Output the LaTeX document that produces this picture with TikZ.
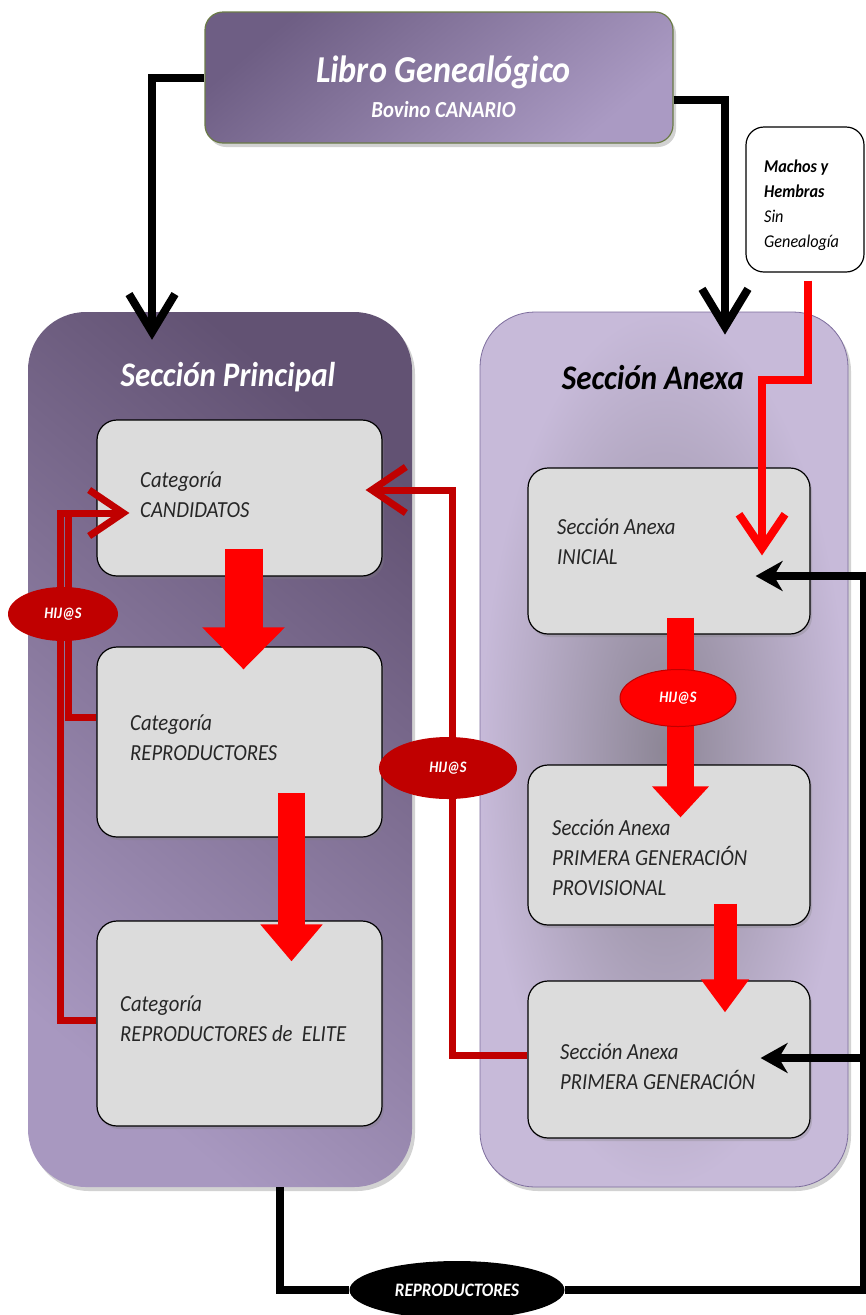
\documentclass[tikz,border=0pt]{standalone}
\usepackage{fontspec}
\setmainfont{Carlito}[FakeStretch=0.9]
\usetikzlibrary{arrows.meta,shapes.geometric,calc,shadows}
\definecolor{topdark}{HTML}{6E5E84}
\definecolor{toplight}{HTML}{AA9AC3}
\definecolor{topedge}{HTML}{6B7B47}
\definecolor{pdark}{HTML}{625273}
\definecolor{plight}{HTML}{A898C0}
\definecolor{aout}{HTML}{C7BAD9}
\definecolor{ain}{HTML}{8D8696}
\definecolor{aedge}{HTML}{7D6D9D}
\definecolor{boxgray}{HTML}{DCDCDC}
\definecolor{hijred}{HTML}{C00000}
\definecolor{brightred}{HTML}{FF0000}
\begin{document}
\begin{tikzpicture}[x=1pt,y=-1pt,
  sectbox/.style={rounded corners=58pt, inner sep=0pt,
    drop shadow={opacity=0.35,shadow xshift=3pt,shadow yshift=-4pt}},
  catbox/.style={draw=black, line width=1.2pt, fill=boxgray, rounded corners=20pt,
    inner sep=0pt, drop shadow={opacity=0.3,shadow xshift=2pt,shadow yshift=-3pt}},
  lbl/.style={font=\itshape\fontsize{23}{30}\selectfont, align=left, anchor=west,
    inner sep=0pt, text=black!85},
  hijos/.style={ellipse, fill=hijred, inner sep=0pt, text=white,
    font=\bfseries\itshape\fontsize{16}{18}\selectfont},
  blk/.style={line width=8pt, black},
  blkbarb/.style={-{Straight Barb[length=38pt,width=46pt]}},
  blkstealth/.style={-{Stealth[length=27pt,width=30pt]}},
  hijline/.style={line width=7pt, hijred},
  redline/.style={line width=8pt, brightred},
  redbarb/.style={-{Straight Barb[length=34pt,width=46pt]}},
  blockarrow/.style={brightred}
]
\fill[white] (0,0) rectangle (866,1315);
\useasboundingbox (0,0) rectangle (866,1315);

% sections
\node[sectbox, minimum width=384pt, minimum height=875pt,
  top color=pdark, bottom color=plight, shading angle=-40] (princ) at (220,749.5) {};
\node[sectbox, rounded corners=55pt, draw=aedge, line width=0.8pt,
  minimum width=368pt, minimum height=875pt,
  inner color=ain, outer color=aout] (anexa) at (664,749.5) {};
\node[font=\bfseries\itshape\fontsize{34.5}{38}\selectfont, text=white] (princT) at (228,377) {Sección Principal};
\node[font=\bfseries\itshape\fontsize{34.5}{38}\selectfont, text=black] (anexaT) at (653,378) {Sección Anexa};

% top box
\node[rounded corners=18pt, draw=topedge, line width=1.2pt, inner sep=0pt,
  minimum width=468pt, minimum height=131pt,
  top color=topdark, bottom color=toplight, shading angle=40,
  drop shadow={opacity=0.35,shadow xshift=3pt,shadow yshift=-4pt}] (top) at (439,77.5) {};
\node[font=\bfseries\itshape\fontsize{38}{42}\selectfont, text=white] (topT1) at (443.5,72) {Libro Genealógico};
\node[font=\bfseries\itshape\fontsize{23}{26}\selectfont, text=white] (topT2) at (443.5,110) {Bovino CANARIO};

% machos box
\node[draw=black, line width=1.2pt, fill=white, rounded corners=18pt, inner sep=0pt,
  minimum width=118pt, minimum height=145pt] (machos) at (805,199.5) {};
\node[anchor=west, align=left, inner sep=0pt, font=\itshape\fontsize{18}{25}\selectfont] (machT) at (764,205)
  {\textbf{Machos y}\\\textbf{Hembras}\\Sin\\Genealogía};

% category boxes
\node[catbox, minimum width=285pt, minimum height=156pt] (cand) at (239.5,498) {};
\node[catbox, minimum width=285pt, minimum height=190pt] (repro) at (239.5,742) {};
\node[catbox, minimum width=285pt, minimum height=205pt] (elite) at (239.5,1023.5) {};
\node[catbox, minimum width=282pt, minimum height=166pt] (ini) at (669,551) {};
\node[catbox, minimum width=282pt, minimum height=160pt] (pgp) at (669,845) {};
\node[catbox, minimum width=282pt, minimum height=157pt] (pg) at (669,1059.5) {};

\node[lbl] (candT) at (140,495) {Categoría\\CANDIDATOS};
\node[lbl] (reproT) at (130,738) {Categoría\\REPRODUCTORES};
\node[lbl] (eliteT) at (120,1019) {Categoría\\REPRODUCTORES de\ \ ELITE};
\node[lbl] (iniT) at (557,542) {Sección Anexa\\INICIAL};
\node[lbl] (pgpT) at (552,858) {Sección Anexa\\PRIMERA GENERACIÓN\\PROVISIONAL};
\node[lbl] (pgT) at (560,1067) {Sección Anexa\\PRIMERA GENERACIÓN};

% black connectors from the top box
\draw[blk, blkbarb] (top.west) -| ($(princ.north)+(-68,28)$);
\draw[blk, blkbarb] ($(top.east)+(0,22)$) -| ($(anexa.north)+(61,23)$);

% red line from machos
\coordinate (mc) at (762,380);
\draw[redline, redbarb] ($(machos.south)+(3,8)$) |- (mc) -- ($(ini.north)+(93,88)$);

% block arrows
\draw[blockarrow, line width=38pt, -{Triangle[length=42pt,width=80pt]}]
  ($(cand.south)+(4,-28)$) -- ($(repro.north)+(4,23)$);
\draw[blockarrow, line width=27pt, -{Triangle[length=37pt,width=60pt]}]
  ($(repro.south)+(52,-45)$) -- ($(elite.north)+(52,41)$);
\draw[blockarrow, line width=27pt, -{Triangle[length=31pt,width=55pt]}]
  ($(ini.south)+(11.5,-17)$) -- ($(pgp.north)+(11.5,53)$);
\draw[blockarrow, line width=23pt, -{Triangle[length=33pt,width=46pt]}]
  ($(pgp.south)+(56,-22)$) -- ($(pg.north)+(56,32)$);

% dark red loops
\coordinate (lA) at (60,513);
\coordinate (lB) at (68,513);
\coordinate (rl) at (452,490);
\draw[hijline, redbarb] ($(elite.west)+(0,-3)$) -| (lA) -- ($(cand.west)+(33,15)$);
\draw[hijline] ($(repro.west)+(0,-25)$) -| (lB) -- (95,513);
\draw[hijline, redbarb] ($(pg.west)+(0,-4)$) -| (rl) -- ($(cand.east)+(-17,-8)$);

% ellipses
\node[hijos, minimum width=110pt, minimum height=54pt] (h1) at (63,614) {HIJ@S};
\node[hijos, fill=brightred, draw=hijred, line width=1pt, minimum width=116pt, minimum height=57pt] (h2) at (678,698) {HIJ@S};
\node[hijos, minimum width=138pt, minimum height=62pt] (h3) at (448,768) {HIJ@S};

% bottom black connectors
\node[ellipse, fill=black, inner sep=0pt, minimum width=215pt, minimum height=58pt,
  text=white, font=\bfseries\itshape\fontsize{19}{22}\selectfont] (reprod) at (457,1290) {REPRODUCTORES};
\coordinate (rtop) at (864,576);
\coordinate (rbot) at (864,1058);
\draw[blk] ($(princ.south)+(60,0)$) |- (reprod.west);
\draw[blk] (reprod.east) -| ($(rtop)+(0,-4)$);
\draw[blk, blkstealth] (rtop) -- ($(ini.east)+(-55,25)$);
\draw[blk, blkstealth] (rbot) -- ($(pg.east)+(-50,-1.5)$);
\end{tikzpicture}
\end{document}
